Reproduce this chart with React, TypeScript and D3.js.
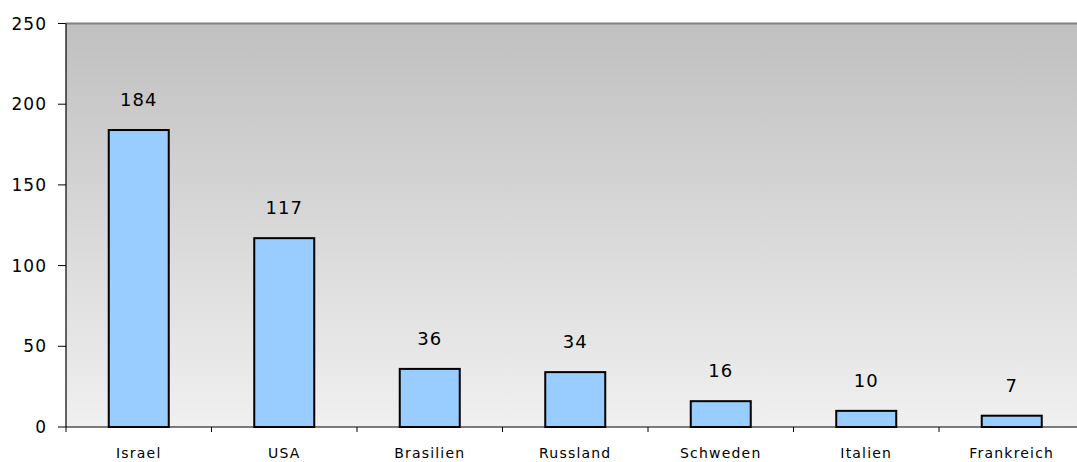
import React from "react";
import * as d3 from "d3";

const categories = ["Israel", "USA", "Brasilien", "Russland", "Schweden", "Italien", "Frankreich"];
const values = [184, 117, 36, 34, 16, 10, 7];
const yTicks = [0, 50, 100, 150, 200, 250];

export default function App() {
  const W = 1077, H = 462;
  const left = 66, right = 1084.5, top = 23.5, bottom = 427;
  const x = d3.scaleBand().domain(categories).range([left, right]).paddingInner(0).paddingOuter(0);
  const y = d3.scaleLinear().domain([0, 250]).range([bottom, top]);
  const barW = 60;
  const font = "'DejaVu Sans', Verdana, sans-serif";
  return (
    <svg width={W} height={H} style={{ position: "absolute", left: 0, top: 0 }}>
      <defs>
        <linearGradient id="bg" x1="0" y1="0" x2="0" y2="1">
          <stop offset="0" stopColor="#c0c0c0" />
          <stop offset="1" stopColor="#f0f0f0" />
        </linearGradient>
      </defs>
      <rect x={0} y={0} width={W} height={H} fill="#fff" />
      <rect x={left} y={top} width={right - left} height={bottom - top} fill="url(#bg)" />
      <line x1={left} x2={right} y1={top} y2={top} stroke="#808080" strokeWidth={2} />
      {categories.map((c, i) => {
        const cx = (x(c) as number) + x.bandwidth() / 2;
        const yv = y(values[i]);
        return (
          <g key={c}>
            <rect x={cx - barW / 2} y={yv} width={barW} height={bottom - yv} fill="#99ccff" stroke="#000" strokeWidth={2} />
            <text x={cx} y={yv - 24} textAnchor="middle" fontFamily={font} fontSize={18} letterSpacing={1} fill="#000">
              {values[i]}
            </text>
            <text x={cx} y={458} textAnchor="middle" fontFamily={font} fontSize={14} letterSpacing={1.2} fill="#000">
              {c}
            </text>
          </g>
        );
      })}
      <line x1={left} x2={left} y1={top} y2={bottom} stroke="#000" strokeWidth={1.2} />
      <line x1={left} x2={right} y1={bottom} y2={bottom} stroke="#000" strokeWidth={1.2} />
      {yTicks.map((t) => (
        <g key={t}>
          <line x1={left - 8} x2={left} y1={y(t)} y2={y(t)} stroke="#000" />
          <text x={47} y={y(t) + 6} textAnchor="end" fontFamily={font} fontSize={17} letterSpacing={1} fill="#000">
            {t}
          </text>
        </g>
      ))}
      {categories.map((c) => (
        <line key={"t" + c} x1={x(c) as number} x2={x(c) as number} y1={bottom} y2={bottom + 5} stroke="#000" />
      ))}
    </svg>
  );
}
